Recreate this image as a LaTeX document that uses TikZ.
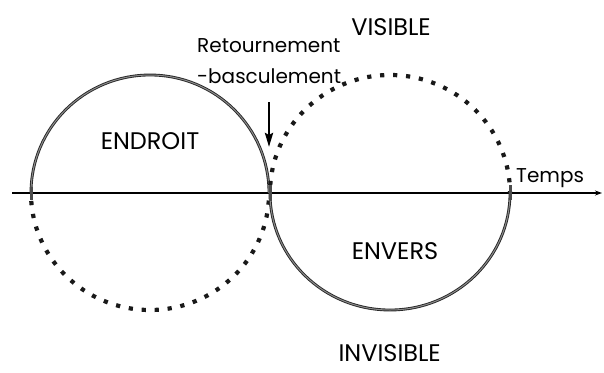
\documentclass[tikz,border=0pt]{standalone}
\usepackage{fontspec}
\setmainfont{Poppins}
\usetikzlibrary{arrows.meta}
\begin{document}
\begin{tikzpicture}[x=1pt,y=-1pt,
  solidarc/.style={line width=0.9pt,draw=black!85,double=black!45,double distance=1pt},
  dotarc/.style={line width=4.2pt,draw=black!90,dash pattern=on 4.2pt off 8.8pt,dash phase=-8pt},
  caps/.style={font=\fontsize{24}{26}\selectfont,inner sep=0pt},
  lower/.style={font=\fontsize{20}{22}\selectfont,inner sep=0pt},
  tick/.style={line width=3pt,draw=black!70}]
\useasboundingbox (0,0) rectangle (604,372);
% axis
\coordinate (axL) at (12,193);
\coordinate (axR) at (602,193);
\draw[line width=1.3pt,-{Stealth[length=7pt,width=5pt]}] (axL) -- (axR);
% circles
\draw[solidarc] (31,193) arc[start angle=180,end angle=360,x radius=119,y radius=118];
\draw[dotarc] (31,193) arc[start angle=180,end angle=0,x radius=119,y radius=117];
\draw[solidarc] (270,193) arc[start angle=180,end angle=0,x radius=120,y radius=117];
\draw[dotarc] (270,193) arc[start angle=180,end angle=360,x radius=120,y radius=118];
% ticks at crossings
\draw[tick] (31,187) -- (31,200);
\draw[tick] (270,185) -- (270,201);
\draw[tick] (510,185) -- (510,200);
% labels
\node[caps,anchor=east] (vis) at (431,27) {VISIBLE};
\node[caps,anchor=east] (invis) at (441,353) {INVISIBLE};
\node[caps] (endroit) at (150,141) {ENDROIT};
\node[caps] (envers) at (395,251) {ENVERS};
\node[lower,anchor=west] (temps) at (516,178) {Temps};
\node[lower,anchor=west] (ret) at (197,46) {Retournement};
\node[lower,anchor=west] (bas) at (197,76) {-basculement};
\coordinate (arrTop) at (269,102);
\coordinate (arrBot) at (269,147);
\draw[line width=2.6pt,-{Stealth[length=14pt,width=8pt,inset=2pt,fill=black!30]}] (arrTop) -- (arrBot);
\end{tikzpicture}
\end{document}
